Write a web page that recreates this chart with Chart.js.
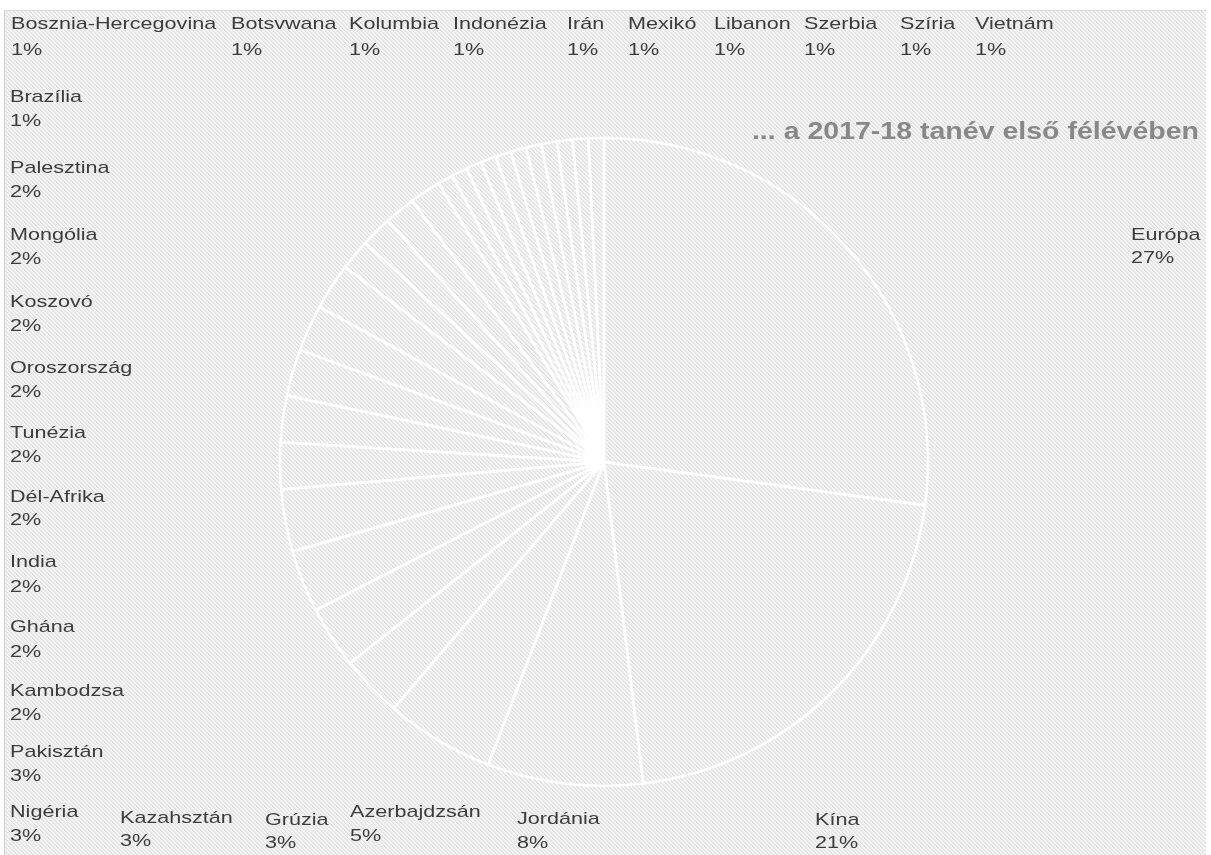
<!DOCTYPE html>
<html><head><meta charset="utf-8">
<script src="https://cdn.jsdelivr.net/npm/chart.js@4.4.1/dist/chart.umd.min.js"></script>
<style>
html,body{margin:0;padding:0;background:#fff;}
#wrap{position:relative;width:1211px;height:855px;overflow:hidden;}
#bg{position:absolute;left:4px;top:10px;width:1202px;height:845px;box-sizing:border-box;
  border-left:1px solid #cfcfcf;border-top:1px solid #dcdcdc;background-color:#f0f0f0;}
canvas#c{position:absolute;left:0;top:0;}
</style></head><body>
<div id="wrap"><div id="bg"></div><canvas id="c" width="1211" height="855"></canvas></div>
<script>
// Data (slice order, clockwise from 12 o'clock)
const categories = ['Európa','Kína','Jordánia','Azerbajdzsán','Grúzia','Kazahsztán','Nigéria','Pakisztán',
  'Kambodzsa','Ghána','India','Dél-Afrika','Tunézia','Oroszország','Koszovó','Mongólia','Palesztina',
  'Brazília','Bosznia-Hercegovina','Botsvwana','Kolumbia','Indonézia','Irán','Mexikó','Libanon','Szerbia','Szíria','Vietnám'];
const values = [35,27,10,7,4,4,4,4,3,3,3,3,3,2,2,2,2,1,1,1,1,1,1,1,1,1,1,1];
const titleText = '... a 2017-18 tanév első félévében';

// Label layout: [x, name centre y, percent centre y]
const labelPos = [
  [1131,235,258],[815,820,843],[517,819,843],[350,812,836],[265,820,843],[120,818,841],[10,812,836],
  [10,752,776],[10,691,715],[10,627,652],[10,562,587],[10,497,520],[10,433,457],[10,368,392],
  [10,302,326],[10,235,259],[10,168,192],[10,97,121],
  [11,24,50],[231,24,50],[349,24,50],[453,24,50],[567,24,50],[628,24,50],[714,24,50],[804,24,50],[900,24,50],[975,24,50]
];

// diagonal hatch tile for the backdrop
(function(){
  const t=document.createElement('canvas'); t.width=4; t.height=4;
  const g=t.getContext('2d');
  g.fillStyle='#f5f5f5'; g.fillRect(0,0,4,4);
  for(let y=0;y<4;y++){
    g.fillStyle='#e0e0e0'; g.fillRect(y%4,y,1,1);
    g.fillStyle='#eaeaea'; g.fillRect((y+1)%4,y,1,1);
  }
  document.getElementById('bg').style.backgroundImage='url('+t.toDataURL()+')';
})();

function drawScaled(ctx,t,x,y,sx){ctx.save();ctx.translate(x,y);ctx.scale(sx,1);ctx.fillText(t,0,0);ctx.restore();}

const textPlugin = {
  id:'texts',
  afterDraw(chart){
    const ctx = chart.ctx;
    const total = values.reduce((a,b)=>a+b,0);
    ctx.save();
    ctx.textBaseline='middle'; ctx.textAlign='left';
    ctx.fillStyle='#3c3c3c';
    ctx.font='17px "Liberation Sans", Arial, sans-serif';
    categories.forEach((name,i)=>{
      const p = labelPos[i];
      const pct = Math.round(values[i]/total*100)+'%';
      drawScaled(ctx,name,p[0],p[1],1.27);
      drawScaled(ctx,pct,p[0],p[2],1.27);
    });
    ctx.font='bold 23px "Liberation Sans", Arial, sans-serif';
    ctx.fillStyle='#888888';
    ctx.textAlign='right';
    drawScaled(ctx,titleText,1199,133,1.24);
    ctx.restore();
  }
};

new Chart(document.getElementById('c'),{
  type:'pie',
  data:{labels:categories,datasets:[{data:values,backgroundColor:'rgba(255,255,255,0)',borderColor:'#ffffff',borderWidth:2.5}]},
  options:{
    responsive:false,animation:false,
    radius:324,
    layout:{padding:{left:274,right:277,top:132,bottom:63}},
    plugins:{legend:{display:false},tooltip:{enabled:false},title:{display:false}}
  },
  plugins:[textPlugin]
});
</script>
</body></html>
